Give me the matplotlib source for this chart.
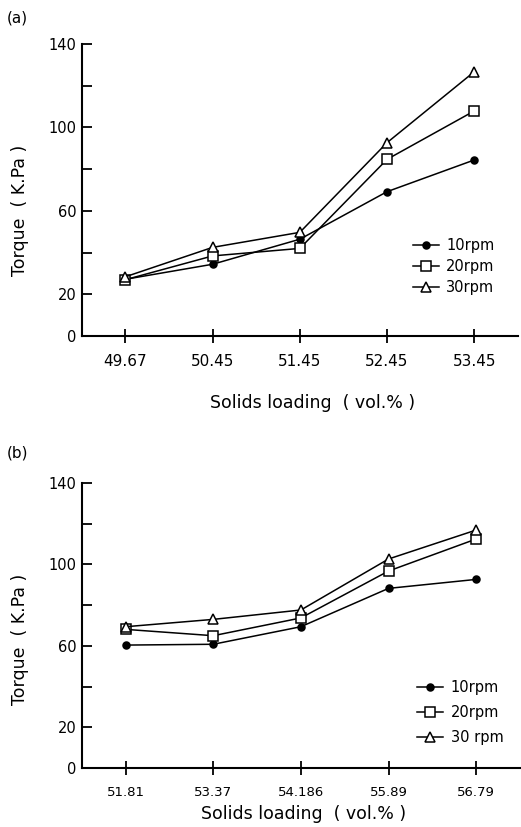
import matplotlib
matplotlib.use("Agg")
import matplotlib.pyplot as plt

plt.rcParams['font.family'] = ['DejaVu Sans']

# panel (a)
loading_a = ["49.67", "50.45", "51.45", "52.45", "53.45"]
torque_a_10 = [27.2, 34.4, 46.4, 69.2, 84.4]
torque_a_20 = [27.0, 38.4, 42.0, 84.7, 107.9]
torque_a_30 = [28.4, 42.5, 49.7, 92.7, 126.7]
labels_a = ["10rpm", "20rpm", "30rpm"]

# panel (b)
loading_b = ["51.81", "53.37", "54.186", "55.89", "56.79"]
torque_b_10 = [60.4, 60.8, 69.4, 88.2, 92.6]
torque_b_20 = [68.1, 65.0, 73.7, 96.7, 112.4]
torque_b_30 = [69.4, 73.0, 77.6, 102.6, 116.8]
labels_b = ["10rpm", "20rpm", "30 rpm"]

y_ticks = [0, 20, 40, 60, 80, 100, 120, 140]
y_ticklabels = ["0", "20", "", "60", "", "100", "", "140"]


def draw_panel(ax, cats, series, labels, xtick_size, leg_anchor, leg_spacing):
    x = list(range(len(cats)))
    styles = [
        dict(marker='o', markersize=5, markerfacecolor='black'),
        dict(marker='s', markersize=6.5, markerfacecolor='white'),
        dict(marker='^', markersize=7.5, markerfacecolor='white'),
    ]
    for vals, lab, st in zip(series, labels, styles):
        ax.plot(x, vals, color='black', linewidth=1.1,
                markeredgecolor='black', markeredgewidth=1.1, label=lab, **st)

    ax.set_xlim(-0.5, len(cats) - 0.5)
    ax.set_ylim(0, 140)
    ax.spines['top'].set_visible(False)
    ax.spines['right'].set_visible(False)
    ax.spines['left'].set_linewidth(1.5)
    ax.spines['bottom'].set_linewidth(1.5)

    ax.set_xticks(x)
    ax.set_xticklabels(cats, fontsize=xtick_size)
    ax.set_yticks(y_ticks)
    ax.set_yticklabels(y_ticklabels, fontsize=10.5)
    ax.tick_params(axis='x', direction='inout', length=10, width=1.3, pad=8)
    ax.tick_params(axis='y', direction='in', length=7, width=1.3, pad=4)

    ax.set_xlabel("Solids loading  ( vol.% )", fontsize=12.5)
    ax.set_ylabel("Torque  ( K.Pa )", fontsize=12.5)

    ax.legend(loc='upper left', bbox_to_anchor=leg_anchor, frameon=False,
              fontsize=10.5, handlelength=1.8, handletextpad=0.5,
              labelspacing=leg_spacing, borderpad=0, borderaxespad=0)


fig = plt.figure(figsize=(5.21, 8.27), dpi=100)

ax_a = fig.add_axes([0.157, 0.5937, 0.837, 0.3531])
draw_panel(ax_a, loading_a, [torque_a_10, torque_a_20, torque_a_30], labels_a,
           11, (0.759, 0.335), 0.4)
ax_a.xaxis.set_label_coords(0.53, -0.2)
ax_a.yaxis.set_label_coords(-0.12, 0.43)

ax_b = fig.add_axes([0.157, 0.0710, 0.841, 0.3453])
draw_panel(ax_b, loading_b, [torque_b_10, torque_b_20, torque_b_30], labels_b,
           9.5, (0.765, 0.31), 0.7)
ax_b.xaxis.set_label_coords(0.505, -0.13)
ax_b.yaxis.set_label_coords(-0.12, 0.45)

fig.text(0.012, 0.978, "(a)", fontsize=11, va='center', ha='left')
fig.text(0.012, 0.452, "(b)", fontsize=11, va='center', ha='left')

fig.savefig("out.png", dpi=100)
